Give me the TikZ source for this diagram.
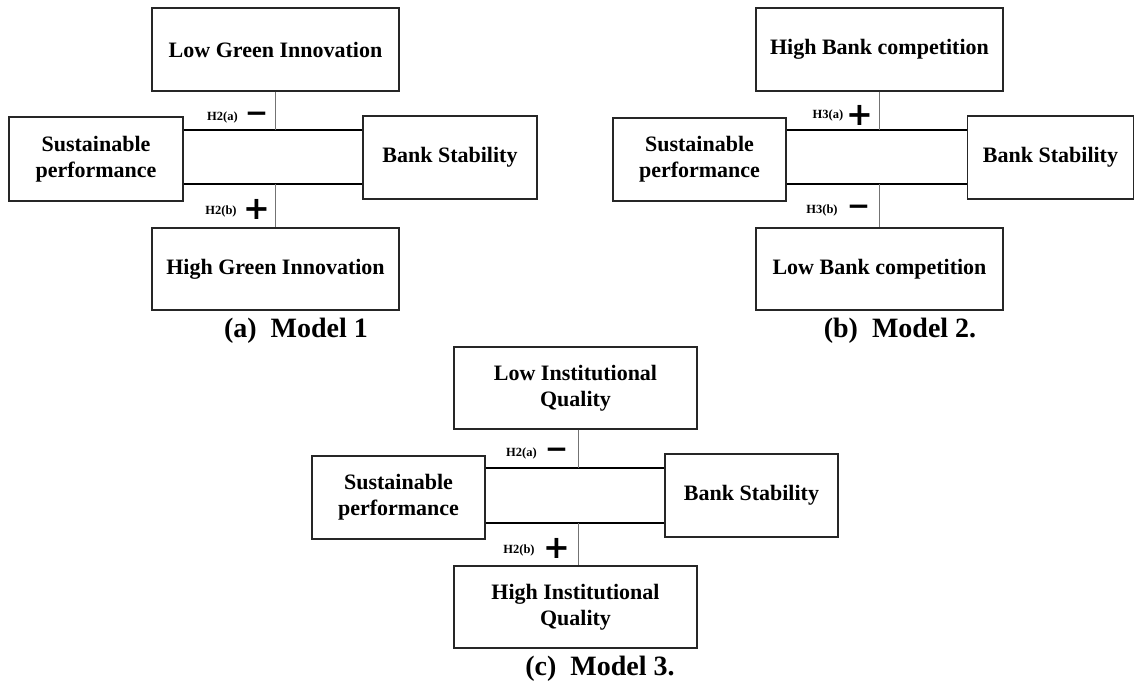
\documentclass[tikz,border=0pt]{standalone}
\usepackage{fontspec}
\setmainfont{Liberation Serif}
\newfontfamily\signfont{DejaVu Sans}
\begin{document}
\begin{tikzpicture}[x=1pt,y=-1pt,
  box/.style={draw=black!85, line width=1.3pt, fill=white, inner sep=0pt,
    align=center, font=\fontsize{22}{26}\selectfont\bfseries},
  hline/.style={draw=black, line width=1.2pt},
  vline/.style={draw=black!55, line width=1pt},
  hyp/.style={inner sep=0pt, font=\fontsize{12.5}{14}\selectfont\bfseries},
  plussign/.style={inner sep=0pt, font=\fontsize{32}{32}\selectfont\signfont\bfseries},
  minussign/.style={inner sep=0pt, font=\fontsize{28}{28}\selectfont\signfont\bfseries},
  caption/.style={inner sep=0pt, font=\fontsize{28}{32}\selectfont\bfseries}]
\useasboundingbox[fill=white] (0,0) rectangle (1135,691);

% ---------- Model 1 ----------
\node[box, minimum width=247pt, minimum height=83pt] (top1) at (275.5,49.5) {Low Green Innovation};
\node[box, minimum width=174pt, minimum height=84pt] (sp1) at (96,159) {Sustainable\\performance};
\node[box, minimum width=174pt, minimum height=83pt] (bs1) at (450,157.5) {Bank Stability};
\node[box, minimum width=247pt, minimum height=82pt] (bot1) at (275.5,269) {High Green Innovation};
\coordinate (j1a) at (top1.south |- 0,130);
\coordinate (j1b) at (bot1.north |- 0,184);
\draw[hline] (sp1.east |- j1a) -- (bs1.west |- j1a);
\draw[hline] (sp1.east |- j1b) -- (bs1.west |- j1b);
\draw[vline] (top1.south) -- (j1a);
\draw[vline] (j1b) -- (bot1.north);
\node[hyp] (h1a) at (222.5,117) {H2(a)};
\node[minussign] (m1a) at (256.5,117) {−};
\node[hyp] (h1b) at (221,211) {H2(b)};
\node[plussign] (p1b) at (257,209) {+};
\node[caption] (cap1) at (296,331) {(a)\ \ Model 1};

% ---------- Model 2 ----------
\node[box, minimum width=247pt, minimum height=83pt] (top2) at (879.5,49.5) {High Bank competition};
\node[box, minimum width=173pt, minimum height=83pt] (sp2) at (699.5,159.5) {Sustainable\\performance};
\node[box, minimum width=166pt, minimum height=83pt] (bs2) at (1050.5,157.5) {Bank Stability};
\node[box, minimum width=247pt, minimum height=82pt] (bot2) at (879.5,269) {Low Bank competition};
\coordinate (j2a) at (top2.south |- 0,130);
\coordinate (j2b) at (bot2.north |- 0,184);
\draw[hline] (sp2.east |- j2a) -- (bs2.west |- j2a);
\draw[hline] (sp2.east |- j2b) -- (bs2.west |- j2b);
\draw[vline] (top2.south) -- (j2a);
\draw[vline] (j2b) -- (bot2.north);
\node[hyp] (h2a) at (828,115) {H3(a)};
\node[plussign] (p2a) at (860,115) {+};
\node[hyp] (h2b) at (822,210) {H3(b)};
\node[minussign] (m2b) at (858.5,210) {−};
\node[caption] (cap2) at (900,331) {(b)\ \ Model 2.};

% ---------- Model 3 ----------
\node[box, minimum width=243pt, minimum height=82pt] (top3) at (575.5,388) {Low Institutional\\Quality};
\node[box, minimum width=173pt, minimum height=83pt] (sp3) at (398.5,497.5) {Sustainable\\performance};
\node[box, minimum width=173pt, minimum height=83pt] (bs3) at (751.5,495.5) {Bank Stability};
\node[box, minimum width=243pt, minimum height=82pt] (bot3) at (575.5,607) {High Institutional\\Quality};
\coordinate (j3a) at (578,468);
\coordinate (j3b) at (578,523);
\draw[hline] (sp3.east |- j3a) -- (bs3.west |- j3a);
\draw[hline] (sp3.east |- j3b) -- (bs3.west |- j3b);
\draw[vline] (top3.south -| j3a) -- (j3a);
\draw[vline] (j3b) -- (bot3.north -| j3b);
\node[hyp] (h3a) at (521.5,453) {H2(a)};
\node[minussign] (m3a) at (556.5,453) {−};
\node[hyp] (h3b) at (519,550) {H2(b)};
\node[plussign] (p3b) at (557,548) {+};
\node[caption] (cap3) at (600,669) {(c)\ \ Model 3.};
\end{tikzpicture}
\end{document}
